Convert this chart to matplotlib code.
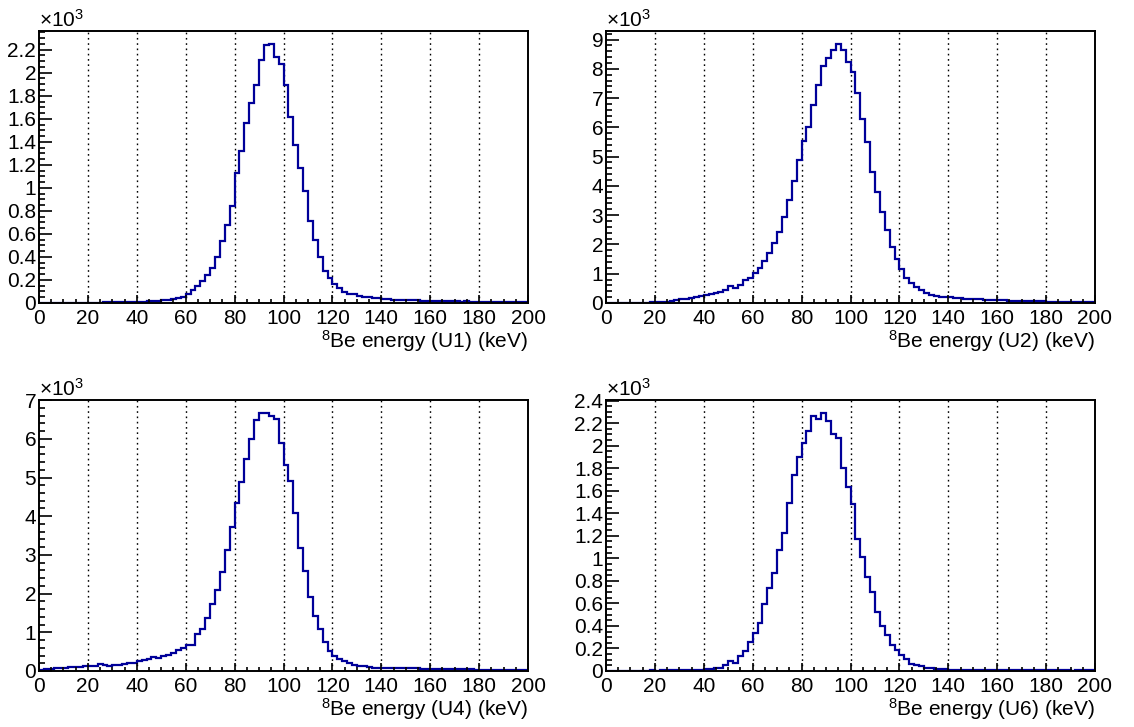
import numpy as np
import matplotlib
matplotlib.use("Agg")
import matplotlib.pyplot as plt
from matplotlib.ticker import MultipleLocator, FuncFormatter

plt.rcParams['font.family'] = ['Liberation Sans', 'DejaVu Sans']
plt.rcParams['mathtext.default'] = 'regular'

# 100 bins of 2 keV, 0-200 keV
edges = np.arange(0, 202, 2)

# counts per bin
u1 = [1, 1, 1, 2, 2, 2, 3, 3, 3, 3,
      4, 4, 4, 5, 5, 6, 6, 7, 8, 9,
      11, 12, 14, 17, 21, 25, 30, 38, 45, 55,
      78, 110, 150, 195, 245, 305, 400, 540, 680, 840,
      1125, 1320, 1560, 1740, 1895, 2110, 2240, 2250, 2140, 2080,
      1895, 1615, 1370, 1175, 970, 715, 545, 400, 275, 215,
      165, 130, 95, 80, 75, 60, 52, 50, 45, 40,
      35, 32, 30, 28, 27, 25, 24, 22, 21, 20,
      18, 17, 16, 15, 15, 14, 13, 14, 12, 11,
      12, 13, 11, 10, 12, 9, 10, 11, 9, 8]

u2 = [5, 5, 5, 8, 8, 10, 10, 12, 15, 20,
      30, 40, 50, 70, 90, 120, 150, 180, 210, 250,
      280, 310, 350, 390, 440, 570, 520, 610, 790, 870,
      1040, 1210, 1420, 1720, 2060, 2440, 2950, 3520, 4160, 4880,
      5540, 6020, 6760, 7440, 8100, 8380, 8640, 8850, 8640, 8220,
      7900, 7190, 6290, 5490, 4470, 3800, 3110, 2510, 1920, 1520,
      1160, 870, 680, 530, 430, 340, 280, 240, 220, 200,
      190, 175, 160, 150, 140, 130, 120, 115, 110, 105,
      95, 90, 85, 80, 75, 70, 65, 60, 58, 55,
      50, 50, 48, 45, 42, 40, 38, 35, 35, 32]

u4 = [30, 45, 60, 70, 80, 90, 100, 110, 115, 125,
      130, 140, 175, 145, 140, 150, 165, 180, 195, 215,
      250, 280, 320, 350, 340, 380, 420, 470, 530, 600,
      680, 680, 960, 1090, 1360, 1720, 2090, 2570, 3120, 3720,
      4330, 4890, 5490, 6000, 6480, 6670, 6670, 6580, 6520, 5900,
      5320, 4910, 4090, 3190, 2580, 1910, 1430, 1090, 750, 520,
      400, 320, 260, 210, 160, 140, 120, 100, 90, 90,
      80, 80, 75, 75, 70, 70, 65, 65, 60, 60,
      55, 55, 50, 50, 50, 45, 45, 40, 40, 35,
      35, 30, 30, 30, 25, 25, 25, 20, 20, 20]

u6 = [2, 3, 2, 3, 4, 3, 3, 4, 3, 5,
      4, 5, 5, 6, 6, 7, 7, 8, 9, 10,
      15, 18, 24, 30, 50, 90, 72, 134, 180, 260,
      340, 425, 595, 740, 870, 1070, 1220, 1490, 1740, 1900,
      2020, 2130, 2260, 2240, 2290, 2220, 2100, 2070, 1800, 1630,
      1480, 1170, 1010, 830, 700, 520, 400, 320, 230, 190,
      140, 110, 65, 50, 40, 30, 25, 20, 15, 15,
      12, 12, 10, 10, 10, 9, 9, 8, 8, 8,
      7, 7, 7, 6, 6, 6, 10, 12, 8, 6,
      5, 5, 6, 5, 5, 4, 5, 6, 8, 5]

labels = ['U1', 'U2', 'U4', 'U6']
series = [u1, u2, u4, u6]
y_major = [200, 1000, 1000, 200]
y_minor = [50, 200, 200, 50]

W, H = 1134, 727
fig = plt.figure(figsize=(W / 100, H / 100), dpi=100)

# axes boxes in pixels: left, top, width, height
boxes = [(39, 31, 489, 272), (606, 31, 489, 272),
         (39, 400, 489, 271), (606, 400, 489, 271)]

fmt = FuncFormatter(lambda v, p: f"{v / 1000:g}")
fs = 15

for i in range(4):
    l, t, w, h = boxes[i]
    ax = fig.add_axes([l / W, 1 - (t + h) / H, w / W, h / H])
    vals = np.array(series[i])
    ax.stairs(vals, edges, baseline=0, color='#000099', lw=1.6)
    ax.set_xlim(0, 200)
    ax.set_ylim(0, 1.05 * vals.max())

    for gx in range(20, 200, 20):
        ax.axvline(gx, color='black', lw=1.0, ls=(0, (1.2, 2.6)), zorder=0)

    ax.xaxis.set_major_locator(MultipleLocator(20))
    ax.xaxis.set_minor_locator(MultipleLocator(5))
    ax.yaxis.set_major_locator(MultipleLocator(y_major[i]))
    ax.yaxis.set_minor_locator(MultipleLocator(y_minor[i]))
    ax.yaxis.set_major_formatter(fmt)

    ax.tick_params(axis='both', which='both', direction='in', labelsize=fs,
                   top=False, right=False, width=1.2)
    ax.tick_params(axis='x', which='major', length=6, pad=4.5)
    ax.tick_params(axis='x', which='minor', length=3)
    ax.tick_params(axis='y', which='major', length=9, pad=2)
    ax.tick_params(axis='y', which='minor', length=4.5)
    for sp in ax.spines.values():
        sp.set_linewidth(1.4)

    ax.set_xlabel(f"$^{{8}}$Be energy ({labels[i]}) (keV)", fontsize=fs,
                  loc='right', labelpad=0)
    ax.text(0.0, 1.0, "×10$^{3}$", transform=ax.transAxes, ha='left',
            va='bottom', fontsize=fs)

fig.savefig('out.png', dpi=100)
